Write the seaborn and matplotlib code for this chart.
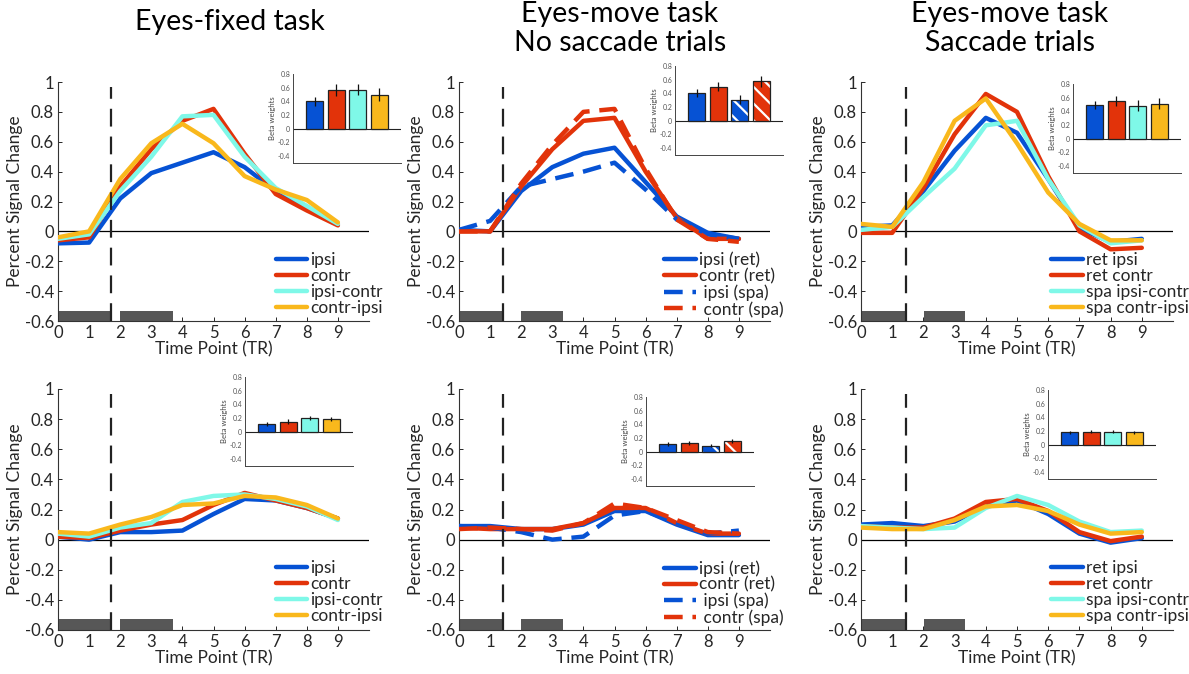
import numpy as np
import pandas as pd
import matplotlib
matplotlib.use("Agg")
import matplotlib.pyplot as plt
import seaborn as sns

sns.set_theme(style="white")
plt.rcParams['font.family'] = ['Lato', 'DejaVu Sans']
plt.rcParams['hatch.linewidth'] = 1.6

# ---------------- data ----------------
tr = [0, 1, 2, 3, 4, 5, 6, 7, 8, 9]

# Panel 1: Eyes-fixed task (top)
p1_ipsi = [-0.08, -0.075, 0.22, 0.39, 0.46, 0.53, 0.43, 0.27, 0.16, 0.05]
p1_contr = [-0.06, -0.04, 0.30, 0.55, 0.74, 0.82, 0.52, 0.25, 0.14, 0.04]
p1_ic = [-0.05, -0.02, 0.27, 0.50, 0.77, 0.78, 0.50, 0.29, 0.17, 0.05]
p1_ci = [-0.04, 0.00, 0.35, 0.59, 0.72, 0.59, 0.37, 0.28, 0.21, 0.06]
# Panel 2: Eyes-move, no saccade (top)
p2_ipsi_ret = [0.01, 0.00, 0.27, 0.43, 0.52, 0.56, 0.33, 0.10, -0.01, -0.05]
p2_contr_ret = [0.00, 0.00, 0.30, 0.55, 0.74, 0.76, 0.40, 0.09, -0.05, -0.05]
p2_ipsi_spa = [0.01, 0.07, 0.30, 0.35, 0.40, 0.46, 0.28, 0.08, -0.02, -0.05]
p2_contr_spa = [0.00, 0.00, 0.32, 0.58, 0.80, 0.82, 0.42, 0.08, -0.05, -0.07]
# Panel 3: Eyes-move, saccade (top)
p3_ret_ipsi = [0.03, 0.04, 0.27, 0.54, 0.76, 0.66, 0.35, 0.02, -0.07, -0.05]
p3_ret_contr = [-0.01, -0.01, 0.29, 0.65, 0.92, 0.80, 0.37, 0.00, -0.12, -0.11]
p3_spa_ic = [0.01, 0.03, 0.23, 0.42, 0.71, 0.74, 0.35, 0.04, -0.08, -0.06]
p3_spa_ci = [0.05, 0.03, 0.33, 0.74, 0.89, 0.59, 0.26, 0.05, -0.06, -0.06]
# Panel 4: Eyes-fixed (bottom)
p4_ipsi = [0.02, 0.00, 0.05, 0.05, 0.06, 0.17, 0.27, 0.26, 0.21, 0.14]
p4_contr = [0.02, 0.01, 0.06, 0.10, 0.13, 0.23, 0.31, 0.26, 0.21, 0.14]
p4_ic = [0.04, 0.02, 0.08, 0.11, 0.25, 0.29, 0.30, 0.27, 0.22, 0.13]
p4_ci = [0.05, 0.04, 0.10, 0.15, 0.23, 0.24, 0.29, 0.28, 0.23, 0.14]
# Panel 5: Eyes-move, no saccade (bottom)
p5_ipsi_ret = [0.09, 0.09, 0.07, 0.07, 0.10, 0.19, 0.19, 0.10, 0.03, 0.03]
p5_contr_ret = [0.08, 0.07, 0.07, 0.07, 0.11, 0.21, 0.21, 0.11, 0.04, 0.04]
p5_ipsi_spa = [0.09, 0.08, 0.05, 0.00, 0.02, 0.16, 0.19, 0.11, 0.04, 0.06]
p5_contr_spa = [0.07, 0.08, 0.07, 0.06, 0.11, 0.24, 0.21, 0.13, 0.05, 0.04]
# Panel 6: Eyes-move, saccade (bottom)
p6_ret_ipsi = [0.10, 0.11, 0.09, 0.12, 0.22, 0.26, 0.17, 0.04, -0.02, 0.01]
p6_ret_contr = [0.09, 0.08, 0.08, 0.14, 0.25, 0.27, 0.19, 0.05, -0.01, 0.02]
p6_spa_ic = [0.09, 0.08, 0.07, 0.08, 0.21, 0.29, 0.23, 0.12, 0.05, 0.06]
p6_spa_ci = [0.08, 0.07, 0.07, 0.13, 0.22, 0.23, 0.19, 0.10, 0.04, 0.05]

labels_fixed = ["ipsi", "contr", "ipsi-contr", "contr-ipsi"]
labels_nosac = ["ipsi (ret)", "contr (ret)", " ipsi (spa)", " contr (spa)"]
labels_sac = ["ret ipsi", "ret contr", "spa ipsi-contr", "spa contr-ipsi"]

# inset beta weights (mean, error)
b1 = [0.40, 0.57, 0.57, 0.50]; e1 = [0.07, 0.09, 0.08, 0.09]
b2 = [0.40, 0.50, 0.31, 0.58]; e2 = [0.06, 0.07, 0.07, 0.08]
b3 = [0.49, 0.55, 0.48, 0.51]; e3 = [0.06, 0.07, 0.08, 0.08]
b4 = [0.11, 0.15, 0.20, 0.19]; e4 = [0.03, 0.03, 0.03, 0.03]
b5 = [0.12, 0.13, 0.09, 0.16]; e5 = [0.03, 0.03, 0.02, 0.03]
b6 = [0.18, 0.19, 0.19, 0.18]; e6 = [0.02, 0.02, 0.02, 0.02]

# stimulus events (start, duration) and dashed marker position
ev_fixed = [(0, 1.7), (2.0, 1.7)]
ev_nosac = [(0, 1.45), (2.0, 1.33)]
ev_sac = [(0, 1.43), (2.02, 1.3)]
mark_fixed = 1.7
mark_nosac = 1.42
mark_sac = 1.43

titles = ["Eyes-fixed task", "Eyes-move task\nNo saccade trials", "Eyes-move task\nSaccade trials"]

BLUE = "#0652d4"
RED = "#e2330a"
CYAN = "#7ff8e8"
YELLOW = "#f9b81c"
DARK = "#262626"

W, H = 1189, 674
fig = plt.figure(figsize=(W / 100, H / 100), dpi=100)


def px_axes(l, t, r, b):
    return fig.add_axes([l / W, 1 - b / H, (r - l) / W, (b - t) / H])


main_boxes = [
    (58, 82, 369, 321), (459, 82, 770, 321), (861, 82, 1173, 321),
    (58, 389, 369, 630), (459, 389, 770, 630), (861, 389, 1173, 630),
]
inset_boxes = [
    (293, 74, 401, 163), (675, 66, 783, 155), (1073, 84, 1181, 173),
    (245, 377, 353, 466), (646, 397, 754, 486), (1048, 390, 1156, 479),
]

solid = "-"
dashed = (0, (4.2, 2.2))

panels = [
    dict(series=[p1_ipsi, p1_contr, p1_ic, p1_ci], labels=labels_fixed,
         colors=[BLUE, RED, CYAN, YELLOW], styles=[solid] * 4,
         ev=ev_fixed, mark=mark_fixed, beta=b1, err=e1, hatch=[False] * 4, leg=0.70),
    dict(series=[p2_ipsi_ret, p2_contr_ret, p2_ipsi_spa, p2_contr_spa], labels=labels_nosac,
         colors=[BLUE, RED, BLUE, RED], styles=[solid, solid, dashed, dashed],
         ev=ev_nosac, mark=mark_nosac, beta=b2, err=e2, hatch=[False, False, True, True], leg=0.66),
    dict(series=[p3_ret_ipsi, p3_ret_contr, p3_spa_ic, p3_spa_ci], labels=labels_sac,
         colors=[BLUE, RED, CYAN, YELLOW], styles=[solid] * 4,
         ev=ev_sac, mark=mark_sac, beta=b3, err=e3, hatch=[False] * 4, leg=0.61),
    dict(series=[p4_ipsi, p4_contr, p4_ic, p4_ci], labels=labels_fixed,
         colors=[BLUE, RED, CYAN, YELLOW], styles=[solid] * 4,
         ev=ev_fixed, mark=mark_fixed, beta=b4, err=e4, hatch=[False] * 4, leg=0.70),
    dict(series=[p5_ipsi_ret, p5_contr_ret, p5_ipsi_spa, p5_contr_spa], labels=labels_nosac,
         colors=[BLUE, RED, BLUE, RED], styles=[solid, solid, dashed, dashed],
         ev=ev_nosac, mark=mark_nosac, beta=b5, err=e5, hatch=[False, False, True, True], leg=0.66),
    dict(series=[p6_ret_ipsi, p6_ret_contr, p6_spa_ic, p6_spa_ci], labels=labels_sac,
         colors=[BLUE, RED, CYAN, YELLOW], styles=[solid] * 4,
         ev=ev_sac, mark=mark_sac, beta=b6, err=e6, hatch=[False] * 4, leg=0.61),
]

yt = [-0.6, -0.4, -0.2, 0, 0.2, 0.4, 0.6, 0.8, 1]
ytl = ["-0.6", "-0.4", "-0.2", "0", "0.2", "0.4", "0.6", "0.8", "1"]

for i, p in enumerate(panels):
    ax = px_axes(*main_boxes[i])
    ax.set_facecolor("none")
    # stimulus event bars
    ax.broken_barh(p["ev"], (-0.6, 0.07), facecolor="#575757", edgecolor="none", zorder=1)
    ax.axhline(0, color="black", lw=0.9, zorder=1)
    ax.axvline(p["mark"], ymin=0, ymax=0.98, color="#222222", lw=1.6,
               linestyle=(0, (8, 4.5)), zorder=5)
    for vals, lab, col, sty in zip(p["series"], p["labels"], p["colors"], p["styles"]):
        df = pd.DataFrame({"tr": tr, "v": vals})
        sns.lineplot(data=df, x="tr", y="v", ax=ax, color=col, linestyle=sty,
                     lw=3.2, label=lab, zorder=3)
    ax.set_xlim(0, 10)
    ax.set_ylim(-0.6, 1.0)
    ax.set_xticks(tr)
    ax.set_xticklabels([str(t) for t in tr])
    ax.set_yticks(yt)
    ax.set_yticklabels(ytl)
    ax.tick_params(axis="both", direction="in", length=3, width=0.7, colors=DARK,
                   labelsize=12, pad=3, bottom=True, left=True)
    for s in ["top", "right"]:
        ax.spines[s].set_visible(False)
    for s in ["left", "bottom"]:
        ax.spines[s].set_color("#333333")
        ax.spines[s].set_linewidth(0.8)
    ax.set_ylabel("Percent Signal Change", fontsize=12.5, color=DARK, labelpad=1)
    ax.set_xlabel("Time Point (TR)", fontsize=12.5, color=DARK, labelpad=0)
    leg = ax.legend(loc="upper left", bbox_to_anchor=(p["leg"], 0.29), frameon=False,
                    fontsize=12.5, handlelength=1.8, handletextpad=0.2,
                    labelspacing=0.0, borderpad=0, borderaxespad=0)
    for t in leg.get_texts():
        t.set_color(DARK)

    # inset bar chart
    ia = px_axes(*inset_boxes[i])
    ia.set_facecolor("white")
    cats = ["a", "b", "c", "d"]
    bdf = pd.DataFrame({"c": cats, "b": p["beta"]})
    cols = [BLUE, RED, p["colors"][2], p["colors"][3]]
    sns.barplot(data=bdf, x="c", y="b", hue="c", palette=cols, ax=ia, width=0.8,
                saturation=1, legend=False, edgecolor="#222222", linewidth=0.9, zorder=2)
    for k, patch in enumerate(ia.patches):
        if p["hatch"][k]:
            patch.set_hatch("\\\\")
            patch.set_edgecolor("white")
            patch.set_linewidth(0)
            x0, w0, h0 = patch.get_x(), patch.get_width(), patch.get_height()
            ia.bar(x0 + w0 / 2, h0, width=w0, facecolor="none",
                   edgecolor="#222222", linewidth=0.9, zorder=3)
    ia.errorbar(range(4), p["beta"], yerr=p["err"], fmt="none", ecolor="#111111",
                elinewidth=0.9, capsize=0, zorder=4)
    ia.axhline(0, color="#222222", lw=0.8, zorder=1)
    ia.set_xlim(-1, 4)
    ia.set_ylim(-0.5, 0.8)
    ia.set_yticks([-0.4, -0.2, 0, 0.2, 0.4, 0.6, 0.8])
    ia.set_yticklabels(["-0.4", "-0.2", "0", "0.2", "0.4", "0.6", "0.8"])
    ia.set_xticks(range(4))
    ia.set_xticklabels([])
    ia.set_xlabel("")
    ia.set_ylabel("Beta weights", fontsize=5.5, color="#444444", labelpad=1)
    ia.tick_params(axis="both", direction="in", length=2, width=0.5, colors="#555555",
                   labelsize=5, pad=2)
    for s in ["top", "right"]:
        ia.spines[s].set_visible(False)
    for s in ["left", "bottom"]:
        ia.spines[s].set_color("#444444")
        ia.spines[s].set_linewidth(0.7)

# column titles
fig.text(230 / W, 1 - 22 / H, titles[0], ha="center", va="center", fontsize=20.5, color="black")
fig.text(620 / W, 1 - 1 / H, titles[1], ha="center", va="top", fontsize=20.5,
         color="black", linespacing=1.15)
fig.text(1010 / W, 1 - 1 / H, titles[2], ha="center", va="top", fontsize=20.5,
         color="black", linespacing=1.15)

fig.savefig("out.png", dpi=100)
